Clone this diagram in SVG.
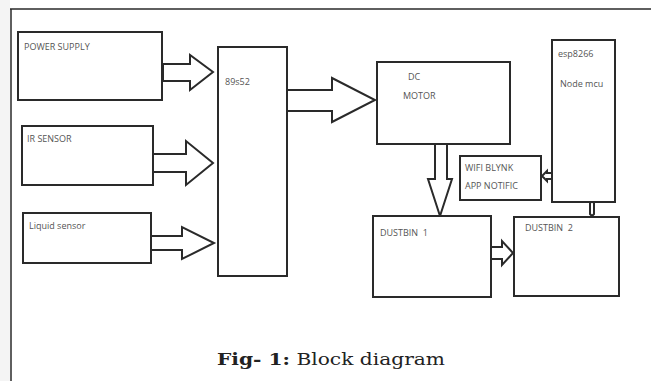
<svg xmlns="http://www.w3.org/2000/svg" width="651" height="381" viewBox="0 0 651 381">
<style>
.box{fill:#fff;stroke:#2a2a2a;stroke-width:2}
.arr{fill:#fff;stroke:#2a2a2a;stroke-width:2;stroke-linejoin:miter}
.lbl{font-family:"Open Sans","Liberation Sans",sans-serif;font-size:9px;fill:#555}
.cap{font-family:"DejaVu Serif","Liberation Serif",serif;font-size:17px;fill:#222}
</style>
<rect x="0" y="0" width="651" height="381" fill="#fff"/>
<rect x="0" y="0" width="10" height="381" fill="#f4f4f4"/>
<line x1="10" y1="9" x2="651" y2="9" stroke="#2a2a2a" stroke-width="1.5"/>
<line x1="11" y1="9" x2="11" y2="381" stroke="#2a2a2a" stroke-width="1.5"/>

<g id="connectors">
<polygon class="arr" points="163,64 190,64 190,55 213,72 190,90 190,81 163,81"/>
<polygon class="arr" points="153,154 186,154 186,141 213,163 186,185 186,172 153,172"/>
<polygon class="arr" points="151,236 182,236 182,227 214,243 182,259 182,250 151,250"/>
<polygon class="arr" points="287,90 332,90 332,78 375,100 332,122 332,111 287,111"/>
<polygon class="arr" points="435,144 447,144 447,179 452,179 440,216 428,179 435,179"/>
<polygon class="arr" points="491,247 502,247 502,241 513,253 502,265 502,259 491,259"/>
<polygon class="arr" points="552,173 547,173 547,171 542,176 547,181 547,179 552,179" stroke-width="1.5"/>
<polygon class="arr" points="590,203 592,201 594,203 594,214 592,216 590,214" stroke-width="1.5"/>
</g>

<g id="power-supply">
<rect class="box" x="18" y="32" width="144" height="68"/>
<text class="lbl" x="24" y="50">POWER SUPPLY</text>
</g>
<g id="ir-sensor">
<rect class="box" x="22" y="126" width="131" height="59"/>
<text class="lbl" x="27" y="142">IR SENSOR</text>
</g>
<g id="liquid-sensor">
<rect class="box" x="23" y="213" width="128" height="50"/>
<text class="lbl" x="29" y="229">Liquid sensor</text>
</g>
<g id="mcu-89s52">
<rect class="box" x="218" y="47" width="69" height="229"/>
<text class="lbl" x="225" y="85">89s52</text>
</g>
<g id="dc-motor">
<rect class="box" x="377" y="62" width="133" height="82"/>
<text class="lbl" x="408" y="80">DC</text>
<text class="lbl" x="403" y="99">MOTOR</text>
</g>
<g id="esp8266">
<rect class="box" x="552" y="40" width="63" height="162"/>
<text class="lbl" x="558" y="57">esp8266</text>
<text class="lbl" x="560" y="87">Node mcu</text>
</g>
<g id="wifi-blynk">
<rect class="box" x="460" y="156" width="81" height="44"/>
<text class="lbl" x="465" y="171">WIFI BLYNK</text>
<text class="lbl" x="465" y="189">APP NOTIFIC</text>
</g>
<g id="dustbin-1">
<rect class="box" x="373" y="216" width="118" height="81"/>
<text class="lbl" x="380" y="236" xml:space="preserve">DUSTBIN  1</text>
</g>
<g id="dustbin-2">
<rect class="box" x="514" y="217" width="105" height="79"/>
<text class="lbl" x="525" y="231" xml:space="preserve">DUSTBIN  2</text>
</g>

<text class="cap" x="217" y="365" textLength="228" lengthAdjust="spacingAndGlyphs"><tspan font-weight="bold">Fig- 1:</tspan> Block diagram</text>
</svg>
